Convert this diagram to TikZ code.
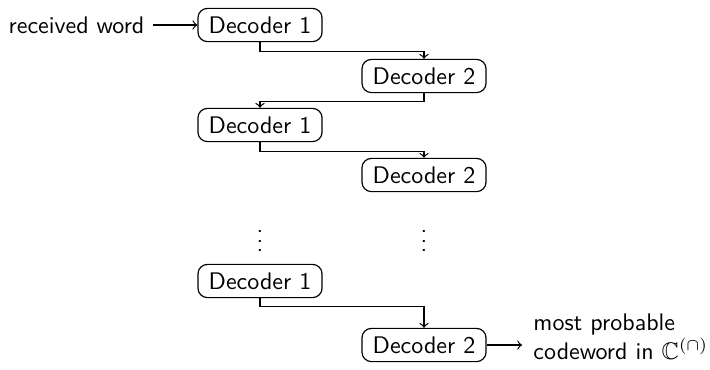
\documentclass[tikz,border=0pt]{standalone}
\usepackage{amssymb}
\begin{document}
\begin{tikzpicture}[x=0.4167pt, y=-0.4167pt, font=\sffamily,
  decoder/.style={draw, rounded corners=4pt, inner xsep=4.5pt, inner ysep=3.4pt, line width=0.5pt},
  link/.style={->, line width=0.5pt}]
  \useasboundingbox (0,0) rectangle (710,369);
  % input and first pass
  \node (rw) at (76.5,25) {received word};
  \node[decoder] (d1a) at (260,25) {Decoder 1};
  \node[decoder] (d2a) at (424,76) {Decoder 2};
  \node[decoder] (d1b) at (260,125) {Decoder 1};
  \node[decoder] (d2b) at (424,175) {Decoder 2};
  % omitted iterations
  \node (va) at (260,234) {$\vdots$};
  \node (vb) at (424,234) {$\vdots$};
  % final pass and output
  \node[decoder] (d1c) at (260,281) {Decoder 1};
  \node[decoder] (d2c) at (424,345) {Decoder 2};
  \node[anchor=west, align=left, inner sep=0pt] (out) at (533,337)
    {most probable\\codeword in $\mathbb{C}^{(\cap)}$};
  % connectors
  \draw[link] (rw) -- (d1a);
  \draw[link] (d1a.south) -- ++(0,9) -| (d2a.north);
  \draw[link] (d2a.south) -- ++(0,8) -| (d1b.north);
  \draw[link] (d1b.south) -- ++(0,9) -| (d2b.north);
  \draw[link] (d1c.south) -- ++(0,8) -| (d2c.north);
  \draw[link] (d2c) -- (d2c -| {(522,0)});
\end{tikzpicture}
\end{document}
